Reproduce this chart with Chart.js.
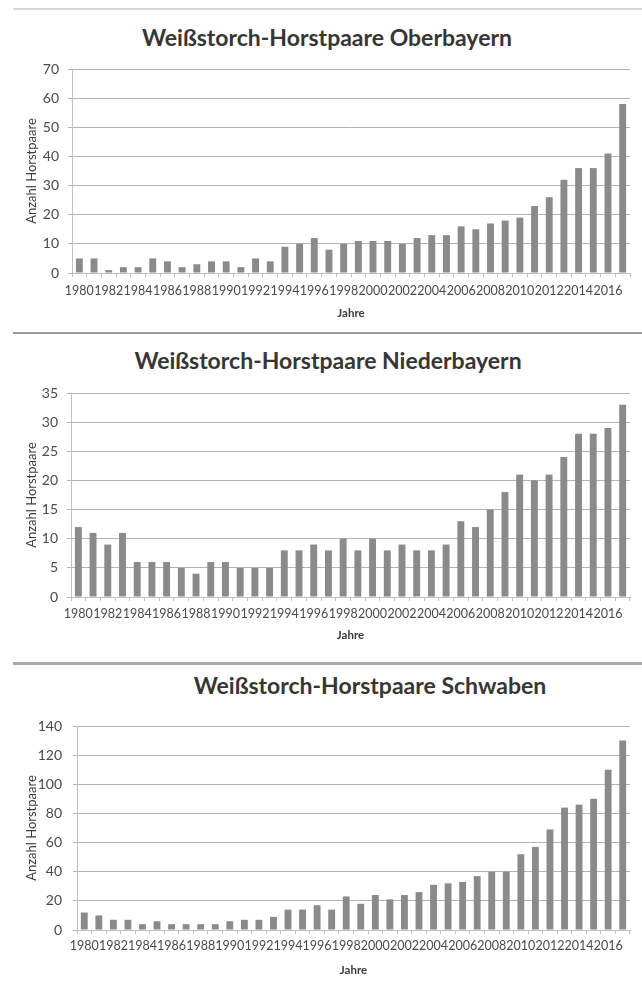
<!DOCTYPE html>
<html><head><meta charset="utf-8">
<script src="https://cdn.jsdelivr.net/npm/chart.js@4.4.1/dist/chart.umd.min.js"></script>
<style>
body{margin:0;background:#fff;width:642px;height:984px;position:relative;overflow:hidden;font-family:Lato,'Open Sans',sans-serif;}
.sep{position:absolute;left:13px;right:0;}
.title{position:absolute;font-weight:bold;font-size:23px;color:#363636;white-space:nowrap;transform:translate(-50%,-50%);line-height:1;}
.box{position:absolute;left:0;}
canvas{display:block;}
</style></head><body>
<div class="sep" style="top:8px;height:2px;background:#d6d6d6"></div>
<div class="sep" style="top:332px;height:2px;background:#9c9c9c"></div>
<div class="sep" style="top:662px;height:3px;background:#a9a9a9"></div>
<div class="title" style="left:327px;top:37px">Weißstorch-Horstpaare Oberbayern</div>
<div class="title" style="left:328px;top:360px">Weißstorch-Horstpaare Niederbayern</div>
<div class="title" style="left:370px;top:685px">Weißstorch-Horstpaare Schwaben</div>
<div class="box" style="top:50px"><canvas id="c1" width="642" height="275"></canvas></div>
<div class="box" style="top:375px"><canvas id="c2" width="642" height="270"></canvas></div>
<div class="box" style="top:705px"><canvas id="c3" width="642" height="279"></canvas></div>
<script>
// ---- data ----
const years = [1980,1981,1982,1983,1984,1985,1986,1987,1988,1989,1990,1991,1992,1993,1994,1995,1996,1997,1998,1999,2000,2001,2002,2003,2004,2005,2006,2007,2008,2009,2010,2011,2012,2013,2014,2015,2016,2017];
const tickYears = [1980,1982,1984,1986,1988,1990,1992,1994,1996,1998,2000,2002,2004,2006,2008,2010,2012,2014,2016];
const oberbayern = [5,5,1,2,2,5,4,2,3,4,4,2,5,4,9,10,12,8,10,11,11,11,10,12,13,13,16,15,17,18,19,23,26,32,36,36,41,58];
const niederbayern = [12,11,9,11,6,6,6,5,4,6,6,5,5,5,8,8,9,8,10,8,10,8,9,8,8,9,13,12,15,18,21,20,21,24,28,28,29,33];
const schwaben = [12,10,7,7,4,6,4,4,4,4,6,7,7,9,14,14,17,14,23,18,24,21,24,26,31,32,33,37,40,40,52,57,69,84,86,90,110,130];
const yAxisTitle = 'Anzahl Horstpaare';
const xAxisTitle = 'Jahre';

function makeChart(id, values, yMax, yStep, g){
  const ctx = document.getElementById(id);
  const H = ctx.height;
  new Chart(ctx, {
    type:'bar',
    data:{labels:years.map(String), datasets:[{data:values, backgroundColor:'#8a8a8a', borderWidth:0, categoryPercentage:1, barPercentage:0.47}]},
    options:{
      responsive:false, animation:false, events:[],
      layout:{padding:{top:g.top, right:642-g.right, bottom:0, left:0}},
      plugins:{legend:{display:false}, tooltip:{enabled:false}, title:{display:false}},
      scales:{
        x:{
          grid:{display:true, drawOnChartArea:false, tickLength:4, color:'#c0c0c0', offset:true},
          border:{color:'#c0c0c0'},
          ticks:{autoSkip:false, maxRotation:0, minRotation:0, padding:g.xpad, color:'#4a4a4a', font:{family:'Lato', size:12.5},
            callback:function(v,i){const y=years[i]; return tickYears.includes(y)?String(y):'';}},
          title:{display:true, text:xAxisTitle, color:'#3a3a3a', font:{family:'Lato', size:11.5, weight:'bold'}, padding:{top:0,bottom:g.jpad}},
          afterFit:function(s){s.height = H - g.bottom;}
        },
        y:{
          min:0, max:yMax,
          grid:{color:'#b3b3b3', tickLength:4, lineWidth:1},
          border:{color:'#c0c0c0'},
          ticks:{stepSize:yStep, padding:g.ypad, color:'#4a4a4a', font:{family:'Lato', size:14}},
          title:{display:true, text:yAxisTitle, color:'#3a3a3a', font:{family:'Lato', size:13}, padding:{top:g.ytpad, bottom:0}},
          afterFit:function(s){s.width = g.left;}
        }
      }
    }
  });
}
// geometry in canvas coordinates
makeChart('c1', oberbayern, 70, 10, {top:19, bottom:223, left:72, right:630, xpad:6, ypad:9, ytpad:24, jpad:5});
makeChart('c2', niederbayern, 35, 5, {top:18, bottom:222, left:71, right:630, xpad:5, ypad:9, ytpad:24, jpad:3});
makeChart('c3', schwaben, 140, 20, {top:21, bottom:225, left:77, right:630, xpad:4, ypad:11, ytpad:24, jpad:7});
</script>
</body></html>
